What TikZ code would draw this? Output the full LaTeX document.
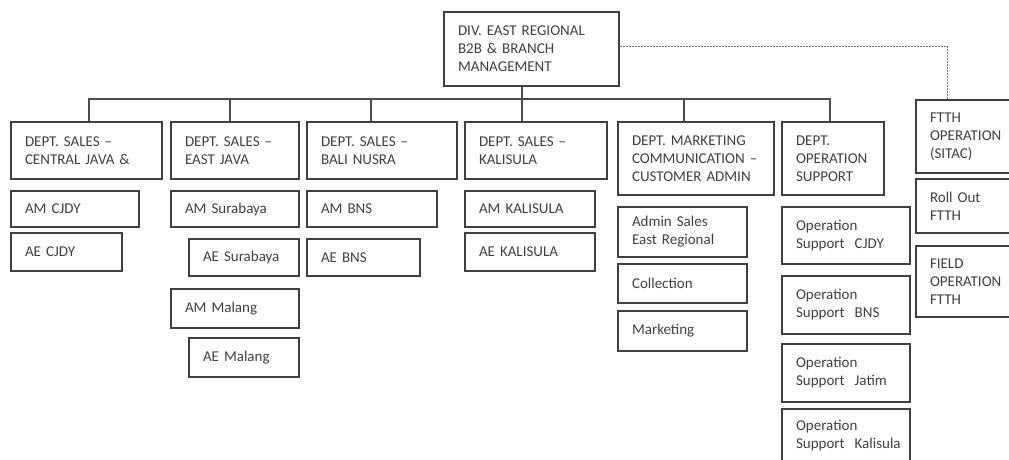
\documentclass[tikz,border=0pt]{standalone}
\usepackage{fontspec}
\setmainfont{Carlito}
\usepackage{tikz}
\usetikzlibrary{arrows,shapes,positioning}
\newcommand{\orgfont}{\fontsize{15}{18}\selectfont}
\tikzset{
    basic/.style  = {draw=black!75, line width=1.2pt, rectangle, font=\orgfont, text=black!75, align=left, inner xsep=14pt, inner ysep=0pt},
    unit/.style 2 args = {basic, minimum width=#1pt, minimum height=#2pt, text width=#1pt-28pt},
    link/.style = {draw=black!70, line width=1.2pt},
    aux link/.style = {draw=black!55, line width=0.6pt, dash pattern=on 2pt off 1pt}
}

\begin{document}
\begin{tikzpicture}[x=1pt,y=-1pt,>=latex]
	\useasboundingbox (0,0) rectangle (1009,460);
	\clip (0,0) rectangle (1009,460);
	% division
	\node[unit={175}{74}] (div) at (531.5,49) {DIV. EAST REGIONAL\\B2B \& BRANCH\\MANAGEMENT};
	% departments
	\node[unit={151}{57}] (salescj) at (86.5,150.5) {DEPT. SALES~--\\CENTRAL JAVA \&};
	\node[unit={128}{57}] (salesej) at (235,150.5) {DEPT. SALES~--\\EAST JAVA};
	\node[unit={150}{57}] (salesbn) at (382,150.5) {DEPT. SALES~--\\BALI NUSRA};
	\node[unit={142}{57}] (saleskl) at (536,150.5) {DEPT. SALES~--\\KALISULA};
	\node[unit={156}{73}] (mktcom) at (696,158.5) {DEPT. MARKETING\\COMMUNICATION~--\\CUSTOMER ADMIN};
	\node[unit={102}{73}] (opsup) at (833,158.5) {DEPT.\\OPERATION\\SUPPORT};
	\node[unit={96}{73}] (ftth) at (964,136.5) {FTTH\\OPERATION\\(SITAC)};
	% units
	\node[unit={128}{36}] (amcj) at (75,209) {AM CJDY};
	\node[unit={111}{38}] (aecj) at (66.5,252) {AE CJDY};
	\node[unit={128}{36}] (amsby) at (235,209) {AM Surabaya};
	\node[unit={110}{37}] (aesby) at (244,257.5) {AE Surabaya};
	\node[unit={128}{39}] (ammlg) at (235,308.5) {AM Malang};
	\node[unit={110}{39}] (aemlg) at (244,357.5) {AE Malang};
	\node[unit={130}{36}] (ambns) at (372,209) {AM BNS};
	\node[unit={113}{37}] (aebns) at (363.5,257.5) {AE BNS};
	\node[unit={130}{36}] (amkal) at (530,209) {AM KALISULA};
	\node[unit={130}{38}] (aekal) at (530,252) {AE KALISULA};
	\node[unit={129}{50}] (admin) at (682.5,232) {Admin Sales\\East Regional};
	\node[unit={129}{39}] (coll) at (682.5,283.5) {Collection};
	\node[unit={129}{40}] (mkt) at (682.5,331) {Marketing};
	\node[unit={128}{57}] (opcj) at (846,235.5) {Operation\\Support~~CJDY};
	\node[unit={128}{58}] (opbns) at (846,305) {Operation\\Support~~BNS};
	\node[unit={128}{58}] (opjt) at (846,373) {Operation\\Support~~Jatim};
	\node[unit={128}{54}] (opkl) at (846,436) {Operation\\Support~~Kalisula};
	\node[unit={96}{54}] (rollout) at (964,206) {Roll Out\\FTTH};
	\node[unit={96}{71}] (field) at (964,281.5) {FIELD\\OPERATION\\FTTH};
	% connectors
	\coordinate (bus) at (0,99);
	\draw[link] ([xshift=-9.5pt]div.south) -- ([xshift=-9.5pt]div.south |- bus);
	\draw[link] ([xshift=2.5pt]salescj.north) -- ([xshift=2.5pt]salescj.north |- bus) -| ([xshift=-3pt]opsup.north);
	\foreach \n/\s in {salesej/-5, salesbn/-11, saleskl/-14, mktcom/-12}
		\draw[link] ([xshift=\s pt]\n.north) -- ([xshift=\s pt]\n.north |- bus);
	\draw[aux link] ([yshift=3pt]div.east) -| ([xshift=-17pt]ftth.north);
\end{tikzpicture}
\end{document}
